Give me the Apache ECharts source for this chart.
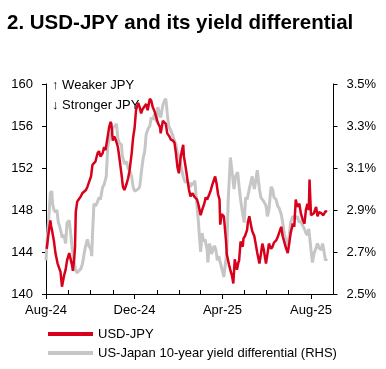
<!DOCTYPE html>
<html>
<head>
<meta charset="utf-8">
<script src="https://cdn.jsdelivr.net/npm/echarts@6/dist/echarts.min.js"></script>
<style>
html,body{margin:0;padding:0;background:#fff;}
#chart{width:386px;height:369px;}
</style>
</head>
<body>
<div id="chart"></div>
<script>
// ---- Data ----
const titleText = '2. USD-JPY and its yield differential';
const seriesNames = ['USD-JPY', 'US-Japan 10-year yield differential (RHS)'];
const noteLines = ['\u2191 Weaker JPY', '\u2193 Stronger JPY'];

const axisStart = '2024-08-01';
const axisEnd = '2025-09-01';
const labelMonths = ['2024-08-01', '2024-12-01', '2025-04-01', '2025-08-01'];

const leftTicks = [140, 144, 148, 152, 156, 160];
const rightTicks = [2.5, 2.7, 2.9, 3.1, 3.3, 3.5];

const usdjpyDates = [
'2024-08-02','2024-08-04','2024-08-07','2024-08-08','2024-08-10','2024-08-12','2024-08-14','2024-08-17','2024-08-19','2024-08-21',
'2024-08-23','2024-08-26','2024-08-28','2024-08-30','2024-09-02','2024-09-04','2024-09-06','2024-09-07','2024-09-09','2024-09-10',
'2024-09-11','2024-09-13','2024-09-15','2024-09-18','2024-09-20','2024-09-22','2024-09-25','2024-09-27','2024-09-29','2024-10-02',
'2024-10-04','2024-10-06','2024-10-08','2024-10-11','2024-10-13','2024-10-15','2024-10-18','2024-10-20','2024-10-22','2024-10-25',
'2024-10-27','2024-10-29','2024-10-30','2024-11-01','2024-11-03','2024-11-05','2024-11-08','2024-11-10','2024-11-13','2024-11-15',
'2024-11-17','2024-11-20','2024-11-22','2024-11-24','2024-11-27','2024-11-29','2024-12-01','2024-12-03','2024-12-06','2024-12-08',
'2024-12-10','2024-12-12','2024-12-14','2024-12-17','2024-12-19','2024-12-22','2024-12-24','2024-12-26','2024-12-29','2024-12-31',
'2025-01-02','2025-01-05','2025-01-06','2025-01-09','2025-01-11','2025-01-13','2025-01-15','2025-01-18','2025-01-20','2025-01-23',
'2025-01-25','2025-01-27','2025-01-29','2025-01-30','2025-01-31','2025-02-02','2025-02-04','2025-02-06','2025-02-07','2025-02-10',
'2025-02-12','2025-02-14','2025-02-16','2025-02-19','2025-02-21','2025-02-25','2025-02-27','2025-03-02','2025-03-04','2025-03-07',
'2025-03-09','2025-03-11','2025-03-14','2025-03-16','2025-03-18','2025-03-21','2025-03-22','2025-03-24','2025-03-26','2025-03-28',
'2025-03-29','2025-03-31','2025-04-02','2025-04-03','2025-04-06','2025-04-07','2025-04-10','2025-04-13','2025-04-14','2025-04-16',
'2025-04-18','2025-04-21','2025-04-23','2025-04-24','2025-04-26','2025-04-29','2025-04-30','2025-05-02','2025-05-05','2025-05-06',
'2025-05-08','2025-05-10','2025-05-12','2025-05-15','2025-05-17','2025-05-19','2025-05-22','2025-05-24','2025-05-26','2025-05-28',
'2025-05-31','2025-06-02','2025-06-04','2025-06-07','2025-06-09','2025-06-11','2025-06-14','2025-06-16','2025-06-18','2025-06-21',
'2025-06-23','2025-06-25','2025-06-27','2025-06-30','2025-07-02','2025-07-04','2025-07-07','2025-07-09','2025-07-11','2025-07-13',
'2025-07-16','2025-07-18','2025-07-20','2025-07-23','2025-07-25','2025-07-27','2025-07-29','2025-07-30','2025-08-01','2025-08-03',
'2025-08-05','2025-08-08','2025-08-10','2025-08-12','2025-08-15','2025-08-17','2025-08-18','2025-08-21','2025-08-23'
];
const usdjpyValues = [
144.3,145.5,147.0,146.5,145.8,145.0,143.9,142.9,142.9,142.1,
140.7,141.8,142.3,143.2,143.9,143.3,142.7,142.2,143.5,144.5,
147.8,148.8,149.0,149.3,149.6,149.6,149.9,150.2,150.3,151.2,
152.3,152.3,152.6,153.4,153.6,153.1,153.4,154.0,153.7,155.0,
155.9,156.4,156.2,154.6,155.0,154.7,154.0,153.0,151.4,150.2,
149.9,150.5,151.0,151.7,153.4,154.9,155.8,157.5,158.2,157.8,
157.2,157.6,157.7,158.1,157.5,158.6,158.4,157.8,157.3,156.8,
156.3,155.9,155.3,156.5,156.6,156.2,155.3,155.0,154.7,154.6,
154.4,153.4,152.1,151.8,151.5,152.8,153.6,154.2,153.1,151.8,
150.8,149.9,149.3,149.6,149.3,149.0,148.5,147.5,148.0,148.6,
149.2,149.0,149.5,149.9,150.4,151.0,151.2,150.5,149.5,149.0,
146.6,147.6,147.6,147.4,145.0,143.8,142.8,142.0,141.8,141.0,
143.3,142.3,143.0,143.2,145.0,144.5,145.3,145.5,146.1,146.8,
147.4,146.7,146.0,145.5,144.7,143.9,142.9,143.8,144.8,144.2,
142.9,143.8,144.8,144.3,144.5,144.9,145.1,145.4,145.8,146.4,
145.5,145.0,144.5,143.9,144.8,145.8,146.7,146.4,149.0,148.3,
148.6,147.7,147.2,146.7,148.0,148.6,148.0,150.9,147.5,147.4,
147.7,148.3,147.4,147.8,147.7,147.6,147.5,147.9,147.8
];

const spreadDates = [
'2024-08-01','2024-08-03','2024-08-05','2024-08-07','2024-08-09','2024-08-10','2024-08-12','2024-08-14','2024-08-16','2024-08-18',
'2024-08-20','2024-08-22','2024-08-23','2024-08-26','2024-08-28','2024-08-30','2024-09-02','2024-09-04','2024-09-06','2024-09-09',
'2024-09-11','2024-09-13','2024-09-15','2024-09-18','2024-09-20','2024-09-22','2024-09-24','2024-09-27','2024-09-29','2024-10-02',
'2024-10-03','2024-10-04','2024-10-06','2024-10-08','2024-10-10','2024-10-13','2024-10-15','2024-10-18','2024-10-20','2024-10-23',
'2024-10-25','2024-10-28','2024-10-31','2024-11-01','2024-11-04','2024-11-06','2024-11-08','2024-11-10','2024-11-13','2024-11-14',
'2024-11-17','2024-11-20','2024-11-22','2024-11-25','2024-11-27','2024-11-29','2024-12-01','2024-12-03','2024-12-06','2024-12-08',
'2024-12-11','2024-12-13','2024-12-15','2024-12-17','2024-12-20','2024-12-22','2024-12-24','2024-12-26','2024-12-29','2024-12-31',
'2025-01-02','2025-01-05','2025-01-06','2025-01-09','2025-01-11','2025-01-13','2025-01-14','2025-01-15','2025-01-17','2025-01-19',
'2025-01-21','2025-01-23','2025-01-25','2025-01-27','2025-01-29','2025-01-31','2025-02-02','2025-02-04','2025-02-06','2025-02-09',
'2025-02-11','2025-02-13','2025-02-16','2025-02-18','2025-02-20','2025-02-22','2025-02-23','2025-02-26','2025-02-27','2025-02-28',
'2025-03-02','2025-03-04','2025-03-06','2025-03-08','2025-03-11','2025-03-12','2025-03-14','2025-03-16','2025-03-17','2025-03-19',
'2025-03-21','2025-03-23','2025-03-25','2025-03-27','2025-03-29','2025-03-31','2025-04-01','2025-04-03','2025-04-05','2025-04-07',
'2025-04-09','2025-04-12','2025-04-14','2025-04-15','2025-04-17','2025-04-19','2025-04-22','2025-04-24','2025-04-26','2025-04-29',
'2025-05-01','2025-05-03','2025-05-05','2025-05-08','2025-05-10','2025-05-12','2025-05-15','2025-05-17','2025-05-19','2025-05-22',
'2025-05-24','2025-05-26','2025-05-28','2025-05-31','2025-06-02','2025-06-04','2025-06-07','2025-06-09','2025-06-11','2025-06-14',
'2025-06-16','2025-06-18','2025-06-21','2025-06-23','2025-06-25','2025-06-27','2025-06-30','2025-07-02','2025-07-04','2025-07-07',
'2025-07-09','2025-07-11','2025-07-13','2025-07-16','2025-07-18','2025-07-20','2025-07-23','2025-07-25','2025-07-27','2025-07-29',
'2025-08-01','2025-08-03','2025-08-05','2025-08-08','2025-08-10','2025-08-12','2025-08-15','2025-08-17','2025-08-19','2025-08-21',
'2025-08-23'
];
const spreadValues = [
2.66,2.78,2.87,2.98,2.99,2.93,2.90,2.89,2.90,2.84,
2.82,2.79,2.77,2.78,2.74,2.84,2.85,2.79,2.72,2.65,
2.61,2.60,2.61,2.62,2.64,2.68,2.72,2.76,2.73,2.71,
2.68,2.78,2.93,2.92,2.93,2.96,2.95,3.01,3.02,3.06,
3.20,3.25,3.27,3.29,3.30,3.31,3.24,3.22,3.21,3.16,
3.12,3.13,3.10,3.08,3.06,3.01,2.99,2.99,3.00,3.01,
3.10,3.15,3.18,3.26,3.29,3.30,3.34,3.33,3.36,3.32,
3.39,3.35,3.34,3.40,3.42,3.43,3.43,3.36,3.30,3.30,
3.27,3.25,3.25,3.21,3.17,3.16,3.13,3.09,3.06,3.03,
3.04,3.03,3.01,3.03,3.02,3.04,3.00,2.88,2.84,2.79,
2.70,2.79,2.75,2.76,2.71,2.65,2.74,2.72,2.69,2.69,
2.73,2.71,2.66,2.68,2.65,2.65,2.61,2.58,2.58,2.70,
2.95,3.15,3.09,3.06,3.00,3.06,3.08,3.01,2.95,2.88,
2.84,2.96,2.95,3.00,3.03,3.06,3.00,3.04,3.09,3.00,
2.96,2.95,2.94,2.92,2.87,2.90,3.01,3.00,2.96,2.95,
2.92,2.91,2.88,2.84,2.79,2.76,2.73,2.78,2.84,2.87,
2.87,2.86,2.87,2.84,2.85,2.83,2.81,2.79,2.78,2.81,
2.71,2.65,2.69,2.72,2.74,2.72,2.71,2.74,2.70,2.66,
2.67
];

// ---- Build daily category axis ----
function fmt(d){
  const m = d.getUTCMonth()+1, day = d.getUTCDate();
  return d.getUTCFullYear()+'-'+(m<10?'0':'')+m+'-'+(day<10?'0':'')+day;
}
const categories = [];
for (let t = Date.parse(axisStart+'T00:00:00Z'); t <= Date.parse(axisEnd+'T00:00:00Z'); t += 86400000) {
  categories.push(fmt(new Date(t)));
}
function align(dates, values){
  const map = {};
  dates.forEach((d,i)=>{ map[d] = values[i]; });
  return categories.map(c => (c in map) ? map[c] : null);
}
const monNames = ['Jan','Feb','Mar','Apr','May','Jun','Jul','Aug','Sep','Oct','Nov','Dec'];
function monthLabel(s){ return monNames[parseInt(s.slice(5,7),10)-1] + '-' + s.slice(2,4); }

const RED = '#d9001b';
const GREY = '#c6c6c6';
const FONT = 'Liberation Sans, Arial, sans-serif';

const chart = echarts.init(document.getElementById('chart'), null, {renderer:'canvas'});
chart.setOption({
  animation: false,
  backgroundColor: '#ffffff',
  title: {
    text: titleText, left: 2, top: 8,
    textStyle: {fontFamily: FONT, fontSize: 20.5, fontWeight: 'bold', color: '#000'}
  },
  grid: {left: 46, right: 52.5, top: 84, bottom: 75, containLabel: false},
  legend: {
    orient: 'vertical', left: 43, top: 322,
    itemWidth: 45, itemHeight: 4, itemGap: 5,
    icon: 'rect',
    textStyle: {fontFamily: FONT, fontSize: 13, color: '#000', lineHeight: 14},
    data: [{name: seriesNames[0], itemStyle:{color:RED}}, {name: seriesNames[1], itemStyle:{color:GREY}}]
  },
  xAxis: [{
    type: 'category', data: categories, boundaryGap: false,
    axisLine: {show: true, lineStyle: {color: '#000', width: 1}},
    axisTick: {show: true, inside: false, length: 5, lineStyle:{color:'#000'},
      interval: (i, v) => labelMonths.indexOf(v) >= 0},
    axisLabel: {show: true, margin: 10, fontFamily: FONT, fontSize: 13, color: '#000',
      interval: (i, v) => labelMonths.indexOf(v) >= 0,
      formatter: v => monthLabel(v)},
    splitLine: {show: false}
  }, {
    type: 'category', data: categories, boundaryGap: false, position: 'bottom',
    axisLine: {show: false},
    axisTick: {show: true, inside: true, length: 4, lineStyle:{color:'#000'},
      interval: (i, v) => v.slice(8,10) === '01' && labelMonths.indexOf(v) < 0},
    axisLabel: {show: false},
    splitLine: {show: false}
  }],
  yAxis: [{
    type: 'value', min: leftTicks[0], max: leftTicks[leftTicks.length-1], interval: leftTicks[1]-leftTicks[0],
    position: 'left',
    axisLine: {show: true, lineStyle: {color: '#000'}},
    axisTick: {show: true, inside: false, length: 4, lineStyle:{color:'#000'}},
    axisLabel: {margin: 13, fontFamily: FONT, fontSize: 13, color: '#000'},
    splitLine: {show: false}
  }, {
    type: 'value', min: rightTicks[0], max: rightTicks[rightTicks.length-1], alignTicks: true,
    position: 'right',
    axisLine: {show: true, lineStyle: {color: '#000'}},
    axisTick: {show: true, inside: false, length: 4, lineStyle:{color:'#000'}},
    axisLabel: {margin: 13, fontFamily: FONT, fontSize: 13, color: '#000',
      formatter: v => v.toFixed(1) + '%'},
    splitLine: {show: false}
  }],
  graphic: [
    {type: 'text', left: 52, top: 79, style: {text: noteLines[0], fontFamily: FONT, fontSize: 13, fill: '#000'}},
    {type: 'text', left: 52, top: 99, style: {text: noteLines[1], fontFamily: FONT, fontSize: 13, fill: '#000'}}
  ],
  series: [{
    name: seriesNames[0], type: 'line', xAxisIndex: 0, yAxisIndex: 0,
    data: align(usdjpyDates, usdjpyValues), connectNulls: true,
    showSymbol: false, symbol: 'none', z: 3,
    lineStyle: {color: RED, width: 2.5}, itemStyle: {color: RED}
  }, {
    name: seriesNames[1], type: 'line', xAxisIndex: 0, yAxisIndex: 1,
    data: align(spreadDates, spreadValues), connectNulls: true,
    showSymbol: false, symbol: 'none', z: 2,
    lineStyle: {color: GREY, width: 3}, itemStyle: {color: GREY}
  }]
});
</script>
</body>
</html>
